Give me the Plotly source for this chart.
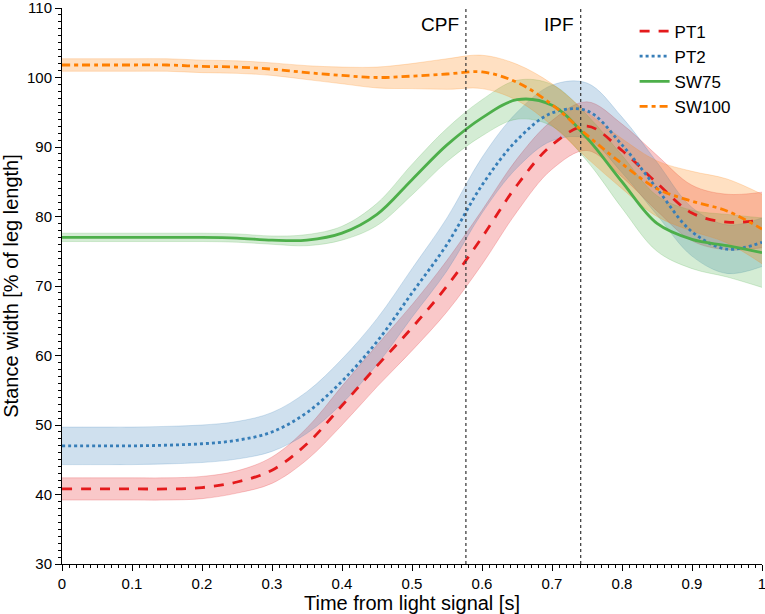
import plotly.graph_objects as go

t = [0.0, 0.05, 0.1, 0.15, 0.2, 0.25, 0.3, 0.35, 0.4, 0.45, 0.5,
     0.55, 0.6, 0.65, 0.7, 0.75, 0.8, 0.85, 0.9, 0.95, 1.0]

pt1_mean = [40.8, 40.8, 40.8, 40.8, 41.0, 41.8, 43.5, 47.3, 52.8, 58.5, 64.0,
            70.0, 77.0, 84.5, 90.3, 93.0, 89.5, 84.8, 80.5, 79.2, 79.5]
pt1_sd = [1.6, 1.6, 1.6, 1.6, 1.6, 1.6, 1.9, 2.3, 2.8, 3.0, 3.3,
          3.7, 3.9, 3.8, 3.5, 3.5, 3.8, 4.0, 4.0, 4.0, 4.0]

pt2_mean = [47.0, 47.0, 47.0, 47.1, 47.3, 47.8, 49.0, 51.8, 56.3, 62.0, 69.0,
            76.0, 84.5, 91.0, 94.9, 95.2, 90.3, 84.0, 77.8, 75.3, 76.3]
pt2_sd = [2.7, 2.7, 2.7, 2.7, 2.7, 2.7, 2.8, 3.0, 3.2, 3.3, 3.5,
          3.8, 4.0, 4.0, 4.0, 4.0, 4.0, 3.8, 3.5, 3.5, 3.5]

sw75_mean = [77.0, 77.0, 77.0, 77.0, 77.0, 76.9, 76.6, 76.6, 77.6, 80.3, 85.3,
             90.3, 94.2, 96.8, 96.0, 91.3, 85.0, 79.0, 76.7, 75.8, 74.8]
sw75_sd = [0.6, 0.6, 0.6, 0.6, 0.6, 0.6, 0.6, 0.8, 1.0, 1.6, 2.2,
           2.4, 2.6, 2.8, 3.0, 3.3, 3.8, 4.0, 4.2, 4.5, 5.0]

sw100_mean = [101.8, 101.8, 101.8, 101.8, 101.6, 101.5, 101.2, 100.7, 100.3, 100.0, 100.2,
              100.5, 100.8, 99.3, 96.1, 91.7, 87.6, 84.0, 82.2, 80.8, 78.2]
sw100_sd = [0.9, 0.9, 0.9, 0.9, 0.9, 0.9, 0.9, 1.0, 1.2, 1.5, 1.8,
            2.2, 2.4, 2.6, 3.0, 3.3, 3.6, 4.0, 4.3, 4.6, 5.0]

names = ["PT1", "PT2", "SW75", "SW100"]
means = [pt1_mean, pt2_mean, sw75_mean, sw100_mean]
sds = [pt1_sd, pt2_sd, sw75_sd, sw100_sd]
colors = [(228, 26, 28), (55, 126, 184), (77, 175, 74), (255, 127, 0)]
dashes = ["10px,9px", "dot", "solid", "8px,4px,4px,4px"]

events_x = [0.577, 0.741]
events_lbl = ["CPF", "IPF"]

fig = go.Figure()

for name, m, s, c in zip(names, means, sds, colors):
    up = [a + b for a, b in zip(m, s)]
    lo = [a - b for a, b in zip(m, s)]
    fig.add_trace(go.Scatter(x=t, y=up, mode="lines", line=dict(width=0.6, color=f"rgba({c[0]},{c[1]},{c[2]},0.35)", shape="spline"),
                             showlegend=False, hoverinfo="skip"))
    fig.add_trace(go.Scatter(x=t, y=lo, mode="lines", line=dict(width=0.6, color=f"rgba({c[0]},{c[1]},{c[2]},0.35)", shape="spline"),
                             fill="tonexty", fillcolor=f"rgba({c[0]},{c[1]},{c[2]},0.24)",
                             showlegend=False, hoverinfo="skip"))

for name, m, c, d in zip(names, means, colors, dashes):
    fig.add_trace(go.Scatter(x=t, y=m, mode="lines", name=name,
                             line=dict(width=2.8, color=f"rgb({c[0]},{c[1]},{c[2]})", dash=d, shape="spline")))

for ex, lbl in zip(events_x, events_lbl):
    fig.add_shape(type="line", x0=ex, x1=ex, y0=0, y1=1, xref="x", yref="paper",
                  line=dict(color="#333333", width=1.2, dash="dot"))
    fig.add_annotation(x=ex, y=0.97, xref="x", yref="paper", text=lbl, showarrow=False,
                       xanchor="right", yanchor="middle", xshift=-5,
                       font=dict(size=19, color="black"))

fig.update_layout(
    width=765, height=614,
    margin=dict(l=62, r=3, t=8, b=50, autoexpand=False),
    paper_bgcolor="white", plot_bgcolor="white",
    font=dict(family="Liberation Sans, Arial, sans-serif", color="black"),
    legend=dict(x=0.818, y=0.99, xanchor="left", yanchor="top", bgcolor="rgba(0,0,0,0)",
                font=dict(size=17), tracegroupgap=0, traceorder="normal"),
    xaxis=dict(range=[0, 1], dtick=0.1, tick0=0, showgrid=False, zeroline=False, automargin=False,
               showline=True, linecolor="black", linewidth=1, ticklabeloverflow="allow",
               ticks="outside", ticklen=6, tickcolor="black", tickfont=dict(size=15),
               minor=dict(dtick=0.01, ticks="outside", ticklen=3, tickcolor="black", showgrid=False),
               title=dict(text="Time from light signal [s]", font=dict(size=20), standoff=0)),
    yaxis=dict(range=[30, 110], dtick=10, tick0=30, showgrid=False, zeroline=False, automargin=False,
               showline=True, linecolor="black", linewidth=1, ticklabeloverflow="allow",
               ticks="outside", ticklen=6, tickcolor="black", tickfont=dict(size=15),
               minor=dict(dtick=1, ticks="outside", ticklen=3, tickcolor="black", showgrid=False),
               title=dict(text="Stance width [% of leg length]", font=dict(size=20), standoff=4)),
)

fig.write_html("out.html", config={"displayModeBar": False},
               post_script="document.body.style.margin='0';")
